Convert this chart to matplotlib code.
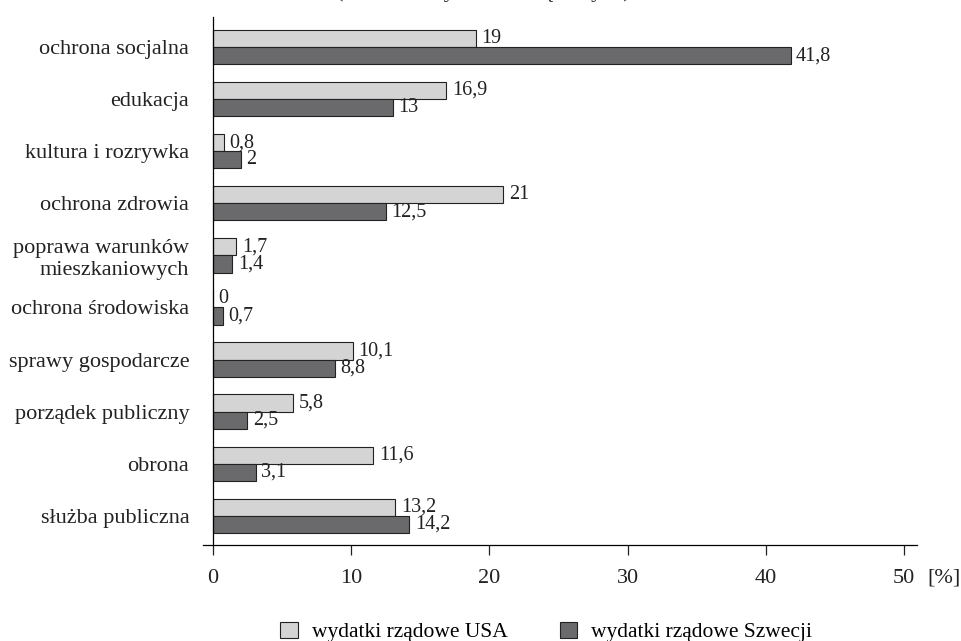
import matplotlib
matplotlib.use("Agg")
import matplotlib.pyplot as plt
from matplotlib.patches import Patch
import numpy as np

categories = ["ochrona socjalna", "edukacja", "kultura i rozrywka", "ochrona zdrowia",
              "poprawa warunków\nmieszkaniowych", "ochrona środowiska",
              "sprawy gospodarcze", "porządek publiczny", "obrona", "służba publiczna"]
usa = [19, 16.9, 0.8, 21, 1.7, 0, 10.1, 5.8, 11.6, 13.2]
sweden = [41.8, 13, 2, 12.5, 1.4, 0.7, 8.8, 2.5, 3.1, 14.2]
series_names = ["wydatki rządowe USA", "wydatki rządowe Szwecji"]
xticks = [0, 10, 20, 30, 40, 50]

plt.rcParams['font.family'] = ['Liberation Serif', 'DejaVu Serif']
plt.rcParams['font.size'] = 16

c_light = "#d4d4d4"
c_dark = "#6a6a6d"
c_text = "#222222"

fig = plt.figure(figsize=(9.62, 6.41), dpi=100)
ax = fig.add_axes([203/962, 1-545/641, (917-203)/962, (545-17)/641])

y = np.arange(len(categories))
h = 0.33
b1 = ax.barh(y - h/2, usa, height=h, color=c_light, edgecolor=c_text, linewidth=0.8)
b2 = ax.barh(y + h/2, sweden, height=h, color=c_dark, edgecolor=c_text, linewidth=0.8)

def fmt(v):
    return ("%g" % v).replace(".", ",")

for bars, vals in ((b1, usa), (b2, sweden)):
    for bar, v in zip(bars, vals):
        ax.annotate(fmt(v), (v, bar.get_y() + bar.get_height()/2),
                    xytext=(4, 0), textcoords="offset points",
                    va="center", ha="left", fontsize=14.5, color=c_text)

ax.set_xlim(-0.72, 50.95)
ax.set_ylim(9.56, -0.576)
ax.set_yticks(y)
ax.set_yticklabels(categories, linespacing=1.05)
ax.set_xticks(xticks)
ax.set_xticklabels([str(t) for t in xticks])

for s in ("top", "right"):
    ax.spines[s].set_visible(False)
ax.spines["left"].set_position(("data", 0))
ax.spines["left"].set_linewidth(0.9)
ax.spines["bottom"].set_linewidth(0.9)
ax.tick_params(axis="y", length=0, pad=17, labelsize=16, colors=c_text)
ax.tick_params(axis="x", direction="out", length=7, width=0.9, pad=10, labelsize=16, colors=c_text)

ax.annotate("[%]", xy=(51.7, 0), xycoords=("data", "axes fraction"),
            xytext=(0, -17), textcoords="offset points", ha="left", va="top",
            fontsize=16, color=c_text, annotation_clip=False)

fig.text(0.502, 1.004, "(struktura wydatków rządowych)", ha="center", va="baseline",
         fontsize=16, color=c_text)

handles = [Patch(facecolor=c_light, edgecolor=c_text, linewidth=0.8),
           Patch(facecolor=c_dark, edgecolor=c_text, linewidth=0.8)]
fig.legend(handles, series_names, loc="center", bbox_to_anchor=(0.568, 1-632/641),
           ncol=2, frameon=False, fontsize=15.5, handlelength=0.83, handleheight=0.83,
           handletextpad=0.65, columnspacing=2.4, borderaxespad=0, borderpad=0)

fig.savefig("out.png", dpi=100)
